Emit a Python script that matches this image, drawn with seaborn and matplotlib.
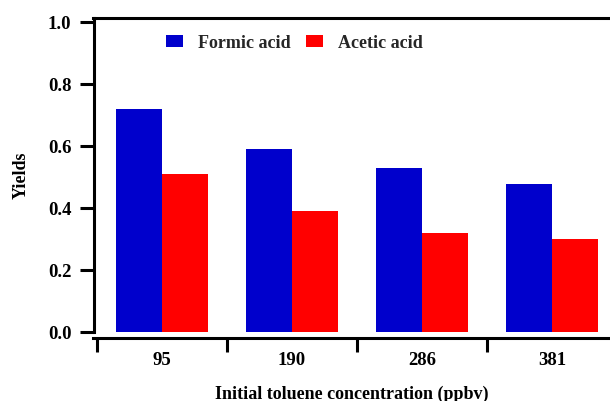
import matplotlib
matplotlib.use("Agg")
import matplotlib.pyplot as plt
import seaborn as sns
import pandas as pd

concentrations = ["95", "190", "286", "381"]
formic_acid = [0.72, 0.59, 0.53, 0.48]
acetic_acid = [0.51, 0.39, 0.32, 0.30]
series_names = ["Formic acid", "Acetic acid"]
y_ticks = [0.0, 0.2, 0.4, 0.6, 0.8, 1.0]

df = pd.DataFrame({
    "conc": concentrations * 2,
    "yield": formic_acid + acetic_acid,
    "acid": [series_names[0]] * 4 + [series_names[1]] * 4,
})

sns.set_theme(style="white")
plt.rcParams["font.family"] = ["Liberation Serif", "DejaVu Serif"]
plt.rcParams["font.weight"] = "bold"

W, H = 610, 401
fig = plt.figure(figsize=(W / 100, H / 100), dpi=100)
ax = fig.add_axes([93.5 / W, (H - 332.3) / H, (W - 93.5) / W, 314 / H])

sns.barplot(data=df, x="conc", y="yield", hue="acid", order=concentrations,
            hue_order=series_names, palette=["#0000CC", "#FF0000"],
            width=0.708, saturation=1, linewidth=0, ax=ax, legend=True)

ax.set_xlim(-0.5 - 3.5 / 130, 3.446)
ax.set_ylim(0, 1.013)

lw = 2.2
for s in ["left", "bottom", "top"]:
    ax.spines[s].set_linewidth(lw)
    ax.spines[s].set_color("black")
ax.spines["right"].set_visible(False)
ax.spines["bottom"].set_position(("outward", 4))

ax.set_yticks(y_ticks)
ax.set_yticklabels([f"{v:.1f}" for v in y_ticks], fontsize=13.5, fontweight="bold")
ax.tick_params(axis="y", which="major", direction="out", length=10, width=lw,
               left=True, color="black", pad=6, labelcolor="black")

ax.set_xticks([-0.5, 0.5, 1.5, 2.5])
ax.set_xticklabels([])
ax.set_xticks([0, 1, 2, 3], minor=True)
ax.set_xticklabels(concentrations, minor=True, fontsize=13.5, fontweight="bold")
ax.tick_params(axis="x", which="major", direction="out", length=10, width=lw,
               bottom=True, color="black")
ax.tick_params(axis="x", which="minor", length=0, pad=10, labelcolor="black")

ax.set_xlabel("Initial toluene concentration (ppbv)", fontsize=13,
              fontweight="bold", labelpad=12, color="black")
ax.set_ylabel("Yields", fontsize=13, fontweight="bold", labelpad=13, color="black")
ax.grid(False)

handles, labels = ax.get_legend_handles_labels()
ax.legend(handles, labels, loc="center left", ncol=2, frameon=False,
          bbox_to_anchor=(166 / W, 1 - 43 / H), bbox_transform=fig.transFigure,
          borderaxespad=0, borderpad=0, handlelength=0.93, handleheight=0.62,
          handletextpad=0.85, columnspacing=0.85,
          prop={"family": "Liberation Serif", "weight": "bold", "size": 13})

fig.savefig("out.png", dpi=100)
